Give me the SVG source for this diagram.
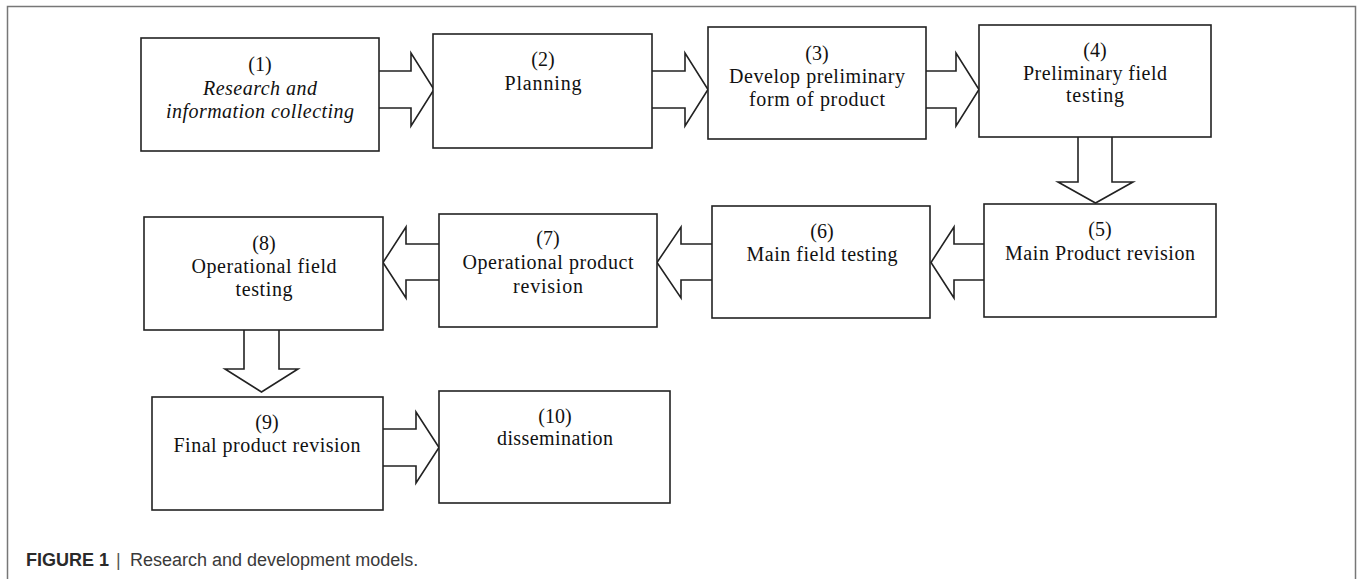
<svg xmlns="http://www.w3.org/2000/svg" width="1357" height="579" viewBox="0 0 1357 579">
  <style>
    .box { fill: #ffffff; stroke: #222222; stroke-width: 1.6; }
    .arr { fill: #ffffff; stroke: #222222; stroke-width: 1.6; stroke-linejoin: miter; }
    .t { font-family: "Liberation Serif", "Times New Roman", serif; font-size: 20px; fill: #111111; text-anchor: middle; }
    .it { font-style: italic; }
    .cap { font-family: "Liberation Sans", Arial, sans-serif; font-size: 18px; fill: #3a3a3a; }
  </style>
  <rect width="1357" height="579" fill="#ffffff"/>
  <path d="M7.5,579 V6.5 H1355.5 V579" fill="none" stroke="#777777" stroke-width="1.5"/>

  <g id="connectors">
    <path class="arr" d="M379,71 H411 V53 L434,89.5 L411,126 V108 H379"/>
    <path class="arr" d="M652,71 H685 V53 L708,89.5 L685,126 V108 H652"/>
    <path class="arr" d="M926,71 H956 V53 L979,89.5 L956,126 V108 H926"/>
    <path class="arr" d="M1078,137 V182 H1058 L1095.5,203 L1133,182 H1112 V137"/>
    <path class="arr" d="M984,244 H954 V227 L931,262.5 L954,298 V280 H984"/>
    <path class="arr" d="M712,244 H681 V227 L657,262.5 L681,298 V280 H712"/>
    <path class="arr" d="M439,244 H406 V227 L383,262.5 L406,298 V280 H439"/>
    <path class="arr" d="M244,330 V369 H225 L261.5,392 L298,369 H279 V330"/>
    <path class="arr" d="M383,429 H416 V412 L439,447.5 L416,483 V466 H383"/>
  </g>

  <g id="node1">
    <rect class="box" x="141" y="38" width="238" height="113"/>
    <text class="t" x="260" y="71">(1)</text>
    <text class="t it" x="260" y="95" textLength="114" lengthAdjust="spacing">Research and</text>
    <text class="t it" x="260" y="118" textLength="188" lengthAdjust="spacing">information collecting</text>
  </g>
  <g id="node2">
    <rect class="box" x="433" y="34" width="219" height="114"/>
    <text class="t" x="543" y="66">(2)</text>
    <text class="t" x="543" y="90" textLength="77" lengthAdjust="spacing">Planning</text>
  </g>
  <g id="node3">
    <rect class="box" x="708" y="27" width="218" height="112"/>
    <text class="t" x="817" y="60">(3)</text>
    <text class="t" x="817" y="83" textLength="176" lengthAdjust="spacing">Develop preliminary</text>
    <text class="t" x="817" y="106" textLength="136" lengthAdjust="spacing">form of product</text>
  </g>
  <g id="node4">
    <rect class="box" x="979" y="25" width="232" height="112"/>
    <text class="t" x="1095" y="57">(4)</text>
    <text class="t" x="1095" y="80" textLength="144" lengthAdjust="spacing">Preliminary field</text>
    <text class="t" x="1095" y="102" textLength="58" lengthAdjust="spacing">testing</text>
  </g>
  <g id="node5">
    <rect class="box" x="984" y="204" width="232" height="113"/>
    <text class="t" x="1100" y="236">(5)</text>
    <text class="t" x="1100" y="260" textLength="190" lengthAdjust="spacing">Main Product revision</text>
  </g>
  <g id="node6">
    <rect class="box" x="712" y="206" width="218" height="112"/>
    <text class="t" x="822" y="238">(6)</text>
    <text class="t" x="822" y="261" textLength="151" lengthAdjust="spacing">Main field testing</text>
  </g>
  <g id="node7">
    <rect class="box" x="439" y="214" width="218" height="113"/>
    <text class="t" x="548" y="245">(7)</text>
    <text class="t" x="548" y="269" textLength="171" lengthAdjust="spacing">Operational product</text>
    <text class="t" x="548" y="293" textLength="70" lengthAdjust="spacing">revision</text>
  </g>
  <g id="node8">
    <rect class="box" x="144" y="217" width="239" height="113"/>
    <text class="t" x="264" y="250">(8)</text>
    <text class="t" x="264" y="273" textLength="145" lengthAdjust="spacing">Operational field</text>
    <text class="t" x="264" y="296" textLength="57" lengthAdjust="spacing">testing</text>
  </g>
  <g id="node9">
    <rect class="box" x="152" y="397" width="231" height="113"/>
    <text class="t" x="267" y="429">(9)</text>
    <text class="t" x="267" y="452" textLength="187" lengthAdjust="spacing">Final product revision</text>
  </g>
  <g id="node10">
    <rect class="box" x="439" y="391" width="231" height="112"/>
    <text class="t" x="555" y="423">(10)</text>
    <text class="t" x="555" y="445" textLength="116" lengthAdjust="spacing">dissemination</text>
  </g>

  <g id="caption">
    <text class="cap" x="26" y="566"><tspan font-weight="bold" fill="#2a2a2a">FIGURE 1</tspan><tspan x="116" fill="#555555">|</tspan><tspan x="130">Research and development models.</tspan></text>
  </g>
</svg>
